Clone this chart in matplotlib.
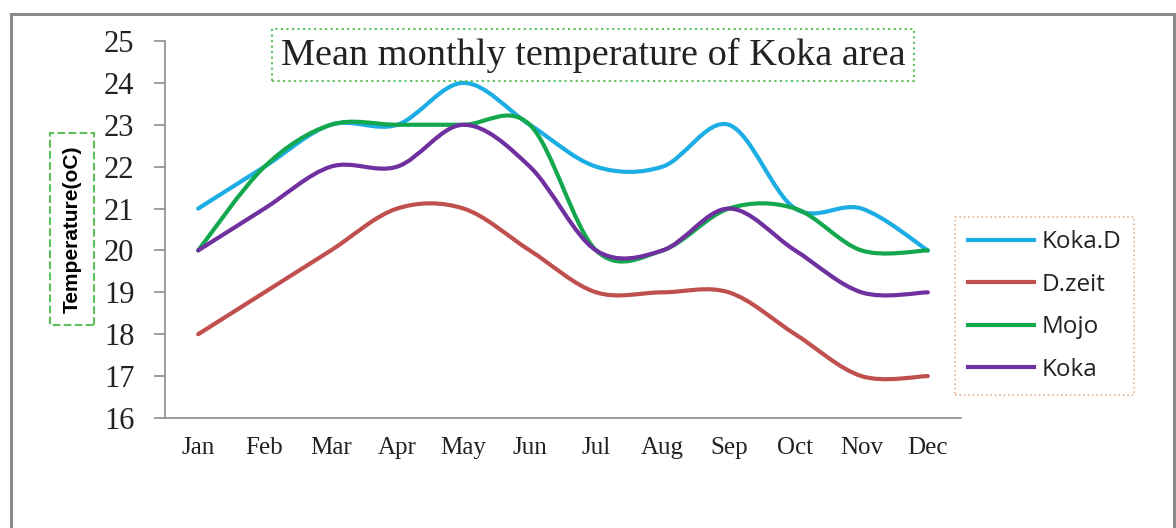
import matplotlib.pyplot as plt
import numpy as np
from matplotlib.path import Path
from matplotlib.patches import PathPatch, Rectangle
from matplotlib.lines import Line2D

months = ['Jan', 'Feb', 'Mar', 'Apr', 'May', 'Jun', 'Jul', 'Aug', 'Sep', 'Oct', 'Nov', 'Dec']
koka_d = [21, 22, 23, 23, 24, 23, 22, 22, 23, 21, 21, 20]
d_zeit = [18, 19, 20, 21, 21, 20, 19, 19, 19, 18, 17, 17]
mojo = [20, 22, 23, 23, 23, 23, 20, 20, 21, 21, 20, 20]
koka = [20, 21, 22, 22, 23, 22, 20, 20, 21, 20, 19, 19]

series = [('Koka.D', koka_d, '#1cade4'),
          ('D.zeit', d_zeit, '#c0504d'),
          ('Mojo', mojo, '#14a84e'),
          ('Koka', koka, '#7030a0')]

W, H = 1176, 528


def smooth_path(y):
    # excel-like smoothed line: catmull-rom as cubic bezier segments
    x = np.arange(len(y), dtype=float)
    p = np.column_stack([x, np.asarray(y, dtype=float)])
    verts = [p[0]]
    codes = [Path.MOVETO]
    n = len(p)
    for i in range(n - 1):
        p0 = p[i - 1] if i > 0 else p[i]
        p1, p2 = p[i], p[i + 1]
        p3 = p[i + 2] if i + 2 < n else p[i + 1]
        verts += [p1 + (p2 - p0) / 6, p2 - (p3 - p1) / 6, p2]
        codes += [Path.CURVE4] * 3
    return Path(verts, codes)


fig = plt.figure(figsize=(W / 100, H / 100), dpi=100)
ax = fig.add_axes([165 / W, 1 - 418 / H, (961 - 165) / W, (418 - 41) / H])

for name, vals, col in series:
    ax.add_patch(PathPatch(smooth_path(vals), fill=False, ec=col, lw=3.0,
                           capstyle='round', joinstyle='round'))

ax.set_xlim(-0.5, 11.5)
ax.set_ylim(16, 25)
ax.set_yticks(range(16, 26))
ax.set_xticks(range(len(months)))
ax.set_xticklabels(months)
for s in ['top', 'right']:
    ax.spines[s].set_visible(False)
for s in ['left', 'bottom']:
    ax.spines[s].set_color('#8c8c8c')
    ax.spines[s].set_linewidth(1.2)
ax.tick_params(axis='y', length=8, width=1.2, color='#8c8c8c', pad=14,
               labelsize=22, labelfontfamily='Liberation Serif',
               labelcolor='#222222')
ax.tick_params(axis='x', length=0, pad=14, labelsize=18,
               labelfontfamily='Liberation Serif', labelcolor='#222222')

# title in dotted box
fig.text(593 / W, 1 - 55 / H, 'Mean monthly temperature of Koka area',
         ha='center', va='center', fontsize=27.5, family='Liberation Serif',
         color='#222222',
         bbox=dict(boxstyle='square,pad=0.22', fc='white', ec='#5cc05c',
                   ls=':', lw=1.5))

# y label in dashed box
fig.text(72 / W, 1 - 229 / H, 'Temperature(oC)', rotation=90,
         ha='center', va='center', fontsize=15, fontweight='bold',
         family='Liberation Sans',
         bbox=dict(boxstyle='square,pad=0.6', fc='white', ec='#5cc05c',
                   ls='--', lw=1.5))

handles = [Line2D([], [], color=c, lw=3.0) for _, _, c in series]
labels = [n for n, _, _ in series]
leg = fig.legend(handles, labels, loc='upper left',
                 bbox_to_anchor=(955 / W, 1 - 217 / H), frameon=True,
                 fancybox=False, borderaxespad=0, handlelength=2.7,
                 handletextpad=0.3, labelspacing=0.76, borderpad=0.55,
                 prop={'family': 'Open Sans', 'size': 17.5})
for t in leg.get_texts():
    t.set_color('#222222')
fr = leg.get_frame()
fr.set_edgecolor('#e0a070')
fr.set_linestyle(':')
fr.set_linewidth(1.2)

# outer border
fig.add_artist(Rectangle((11 / W, -0.1), (1174 - 11) / W, 1.1 - 14 / H,
                         transform=fig.transFigure, fill=False,
                         ec='#8a8a8a', lw=2.2))

fig.savefig('out.png', dpi=100)
